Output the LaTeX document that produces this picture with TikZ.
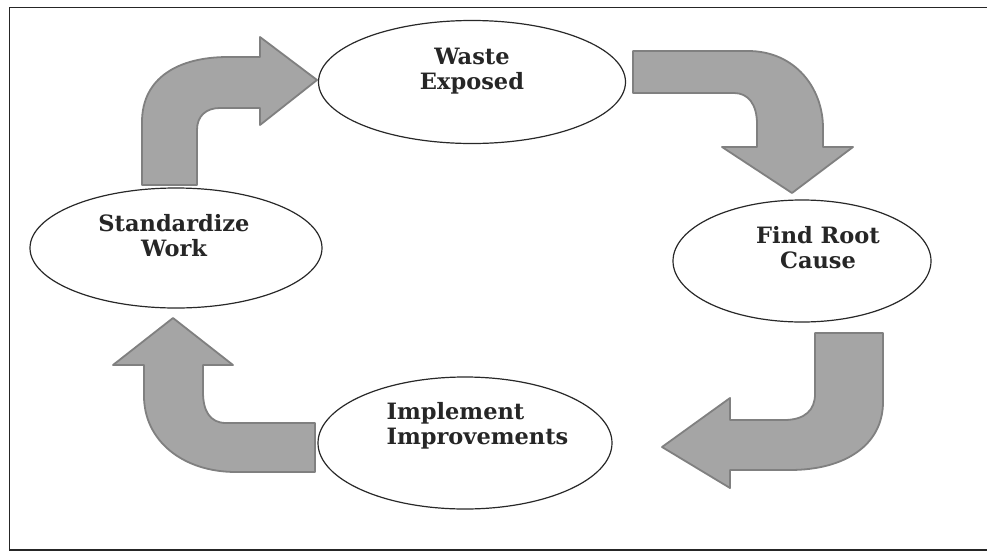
\documentclass[tikz,border=0pt]{standalone}
\usepackage{fontspec}
\setmainfont{DejaVu Serif}
\usetikzlibrary{shapes.geometric}
\definecolor{arrowfill}{RGB}{165,165,165}
\definecolor{arrowline}{RGB}{128,128,128}
\definecolor{inkline}{RGB}{40,40,40}
\begin{document}
\begin{tikzpicture}[x=1pt,y=-1pt,
  bubble/.style={ellipse, draw=inkline, line width=1.2pt, inner sep=0pt},
  label/.style={font=\bfseries\fontsize{22.5}{25}\selectfont, text=black!85, align=center},
  bentarrow/.style={fill=arrowfill, draw=arrowline, line width=1.8pt, line join=round}]
\useasboundingbox (0,0) rectangle (987,552);
\fill[white] (0,0) rectangle (987,552);
% frame
\draw[line width=1.6pt, black!85] (992,7.5) -- (9.5,7.5) -- (9.5,550) -- (992,550);
% ellipses
\node[bubble, minimum width=307pt, minimum height=123pt] (we) at (472,82) {};
\node[bubble, minimum width=292pt, minimum height=120pt] (sw) at (176,248) {};
\node[bubble, minimum width=258pt, minimum height=122pt] (fr) at (802,261) {};
\node[bubble, minimum width=294pt, minimum height=132pt] (ii) at (465,443) {};
% labels
\node[label] (twe) at (472,71) {Waste\\Exposed};
\node[label] (tsw) at (174,236) {Standardize\\Work};
\node[label] (tfr) at (818,248) {Find Root\\Cause};
\node[label, align=left, anchor=west] (tii) at (383,426) {Implement\\Improvements};
% arrows
\draw[bentarrow] (142,185) -- (142,122) .. controls (142,78) and (178,57) .. (228,57)
  -- (260,57) -- (260,37) -- (317,80) -- (260,125) -- (260,108) -- (220,108)
  .. controls (206,108) and (197,116) .. (197,130) -- (197,185) -- cycle;
\draw[bentarrow] (633,51) -- (748,51) .. controls (795,51) and (823,88) .. (823,128)
  -- (823,147) -- (853,147) -- (792,193) -- (722,147) -- (757,147) -- (757,124)
  .. controls (757,104) and (748,93) .. (734,93) -- (633,93) -- cycle;
\draw[bentarrow] (815,333) -- (883,333) -- (883,402) .. controls (883,445) and (845,470) .. (790,470)
  -- (730,470) -- (730,488) -- (662,447) -- (730,398) -- (730,420) -- (784,420)
  .. controls (805,420) and (815,410) .. (815,394) -- cycle;
\draw[bentarrow] (315,423) -- (315,472) -- (236,472) .. controls (182,472) and (144,440) .. (144,396)
  -- (144,365) -- (113,365) -- (173,318) -- (233,365) -- (203,365) -- (203,392)
  .. controls (203,411) and (210,423) .. (226,423) -- cycle;
\end{tikzpicture}
\end{document}
